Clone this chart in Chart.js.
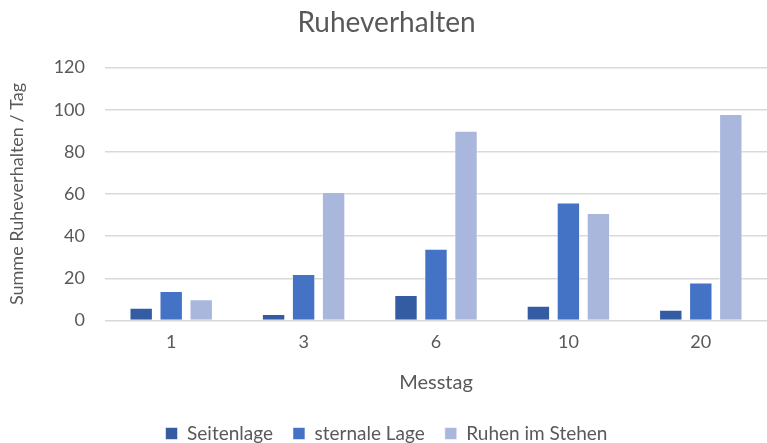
<!DOCTYPE html>
<html>
<head>
<meta charset="utf-8">
<script src="https://cdn.jsdelivr.net/npm/chart.js@4"></script>
<style>
  html, body { margin: 0; padding: 0; background: #fff; }
  #wrap { width: 767px; height: 443px; }
</style>
</head>
<body>
<div id="wrap"><canvas id="chart" width="767" height="443"></canvas></div>
<script>
/* Ruheverhalten — Summe je Messtag */
const messtage = ["1", "3", "6", "10", "20"];
const seitenlage = [6, 3, 12, 7, 5];
const sternaleLage = [14, 22, 34, 56, 18];
const ruhenImStehen = [10, 61, 90, 51, 98];

const FONT = "Lato, 'Open Sans', sans-serif";
const INK = "#595959";

Chart.defaults.font.family = FONT;
Chart.defaults.color = INK;

function serie(label, data, color) {
  return {
    label,
    data,
    backgroundColor: color,
    borderColor: "rgba(255,255,255,0.55)",
    borderWidth: 1,
    categoryPercentage: 0.68,
    barPercentage: 0.78,
  };
}

new Chart(document.getElementById("chart"), {
  type: "bar",
  data: {
    labels: messtage,
    datasets: [
      serie("Seitenlage", seitenlage, "#345CA2"),
      serie("sternale Lage", sternaleLage, "#4472C4"),
      serie("Ruhen im Stehen", ruhenImStehen, "#A9B7DC"),
    ],
  },
  options: {
    responsive: false,
    animation: false,
    // negative bottom padding pulls the legend closer to the lower edge
    layout: { padding: { top: 4, right: 0, left: 6, bottom: -10 } },
    plugins: {
      title: {
        display: true,
        text: "Ruheverhalten",
        font: { size: 28, weight: "normal" },
        color: INK,
        padding: { top: 2, bottom: 28 },
      },
      legend: {
        position: "bottom",
        labels: { boxWidth: 12, boxHeight: 12, padding: 20, font: { size: 19 }, color: INK },
      },
      tooltip: { enabled: false },
    },
    scales: {
      x: {
        grid: { display: false },
        border: { display: false },
        ticks: { font: { size: 18 }, color: INK, padding: 3 },
        title: { display: true, text: "Messtag", font: { size: 20 }, color: INK, padding: { top: 15, bottom: 9 } },
      },
      y: {
        min: 0,
        max: 120,
        ticks: { stepSize: 20, font: { size: 18 }, color: INK, padding: 20 },
        grid: { color: "#d9d9d9", lineWidth: 1.5, drawTicks: false },
        border: { display: false },
        title: { display: true, text: "Summe Ruheverhalten / Tag", font: { size: 18 }, color: INK, padding: { top: 0, bottom: 4 } },
        afterFit: (scale) => { scale.width = 99; },
      },
    },
  },
});
</script>
</body>
</html>
